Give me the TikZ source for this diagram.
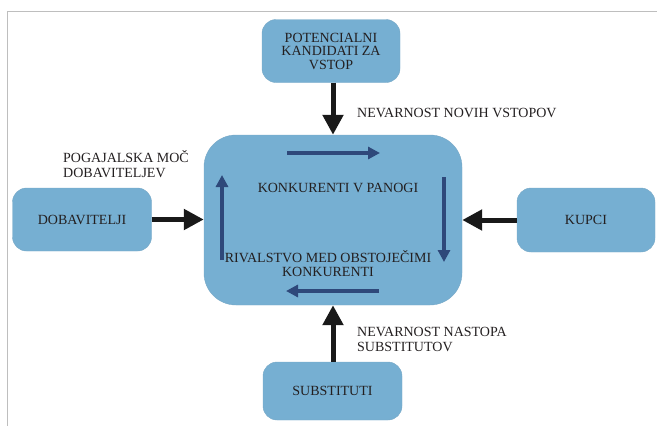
\documentclass[tikz,border=0pt]{standalone}
\usepackage{fontspec}
\setmainfont{Liberation Serif}
\usetikzlibrary{arrows.meta}
\definecolor{boxblue}{RGB}{118,175,210}
\definecolor{innerblue}{RGB}{46,72,122}
\definecolor{txt}{RGB}{35,31,32}
\definecolor{framegray}{RGB}{190,190,190}
\tikzset{
  box/.style={fill=boxblue, draw=boxblue!85!gray, line width=0.4pt, rounded corners=14pt, align=center, font=\fontsize{14}{13.5}\selectfont, text=txt, inner sep=0pt},
  bigarrow/.style={draw=black!90, line width=5pt, -{Triangle[width=20pt,length=20pt]}},
  innerarrow/.style={draw=innerblue, line width=4pt, -{Triangle[width=12pt,length=12pt]}},
  lbl/.style={align=left, font=\fontsize{14}{15}\selectfont, text=txt, inner sep=0pt},
}
\begin{document}
\begin{tikzpicture}[x=1pt,y=-1pt]
\useasboundingbox (0,0) rectangle (657,426);
\draw[framegray, line width=1pt] (7,426) -- (7,11) -- (657,11);

\node[box, minimum width=138pt, minimum height=63pt] (top) at (331,51) {POTENCIALNI\\KANDIDATI ZA\\VSTOP};
\node[box, minimum width=258pt, minimum height=170pt, rounded corners=32pt] (center) at (333,220) {};
\node[box, minimum width=139pt, minimum height=63pt] (left) at (82,219.5) {DOBAVITELJI};
\node[box, minimum width=138pt, minimum height=64pt] (right) at (586,220) {KUPCI};
\node[box, minimum width=139pt, minimum height=58pt] (bottom) at (332.5,391) {SUBSTITUTI};

\node[font=\fontsize{14}{13.5}\selectfont, text=txt, inner sep=0pt] (konk) at (338,188) {KONKURENTI V PANOGI};
\node[align=center, font=\fontsize{14}{13.5}\selectfont, text=txt, inner sep=0pt] (rival) at (328,263.5) {RIVALSTVO MED OBSTOJEČIMI\\KONKURENTI};

\coordinate (t1) at (287,153); \coordinate (t2) at (380,153);
\coordinate (r1) at (444,177); \coordinate (r2) at (444,262);
\coordinate (b1) at (379,291); \coordinate (b2) at (286,291);
\coordinate (l1) at (222,260); \coordinate (l2) at (222,175);
\draw[innerarrow] (t1) -- (t2);
\draw[innerarrow] (r1) -- (r2);
\draw[innerarrow] (b1) -- (b2);
\draw[innerarrow] (l1) -- (l2);

\draw[bigarrow] (top.south -| center.north) -- (center.north);
\draw[bigarrow] (left.east) -- (left.east -| center.west);
\draw[bigarrow] (right.west) -- (right.west -| center.east);
\draw[bigarrow] (bottom.north -| center.south) -- (center.south);

\node[lbl, anchor=west] (l_new) at (357,113) {NEVARNOST NOVIH VSTOPOV};
\node[lbl, anchor=west] (l_dob) at (63,164.5) {POGAJALSKA MOČ\\DOBAVITELJEV};
\node[lbl, anchor=west] (l_sub) at (357,339) {NEVARNOST NASTOPA\\SUBSTITUTOV};
\end{tikzpicture}
\end{document}
